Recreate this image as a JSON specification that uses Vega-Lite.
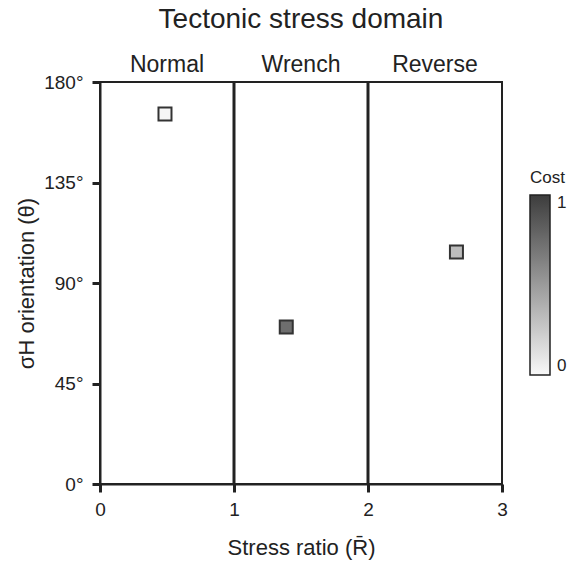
{
  "$schema": "https://vega.github.io/schema/vega-lite/v6.json",
  "width": 402,
  "height": 402,
  "autosize": "none",
  "padding": {"left": 100, "top": 82, "right": 72, "bottom": 83},
  "background": "white",
  "title": {"text": "Tectonic stress domain", "fontSize": 28, "font": "Liberation Sans", "fontWeight": "normal", "color": "#222", "offset": 20, "anchor": "middle"},
  "config": {
    "font": "Liberation Sans",
    "view": {"stroke": "#222", "strokeWidth": 2},
    "axis": {"grid": false, "domainColor": "#222", "domainWidth": 2, "tickColor": "#222", "tickWidth": 3, "tickSize": 8, "labelFontSize": 19, "labelColor": "#222", "labelFont": "Liberation Sans", "titleFont": "Liberation Sans", "titleFontSize": 22, "titleFontWeight": "normal", "titleColor": "#222", "labelPadding": 6, "labelFlush": false},
    "legend": {"titleFont": "Liberation Sans", "labelFont": "Liberation Sans"}
  },
  "layer": [
    {
      "data": {"values": [{"x": 1}, {"x": 2}]},
      "mark": {"type": "rule", "color": "#222", "strokeWidth": 3},
      "encoding": {
        "x": {"field": "x", "type": "quantitative", "scale": {"domain": [0, 3], "nice": false, "zero": false},
          "axis": {"values": [0, 1, 2, 3], "format": "d", "title": "Stress ratio (R\u0304)", "titlePadding": 18, "labelPadding": 8}}
      }
    },
    {
      "data": {"values": [{"x": 0.5, "label": "Normal"}, {"x": 1.5, "label": "Wrench"}, {"x": 2.5, "label": "Reverse"}]},
      "mark": {"type": "text", "fontSize": 23, "dy": -10, "baseline": "alphabetic", "color": "#222", "font": "Liberation Sans"},
      "encoding": {
        "x": {"field": "x", "type": "quantitative"},
        "y": {"datum": 180, "type": "quantitative"},
        "text": {"field": "label"}
      }
    },
    {
      "data": {"values": [
        {"ratio": 0.485, "theta": 165.7, "cost": 0.01},
        {"ratio": 1.39, "theta": 70.3, "cost": 0.74},
        {"ratio": 2.66, "theta": 103.9, "cost": 0.32}
      ]},
      "mark": {"type": "point", "shape": "square", "filled": true, "size": 169, "stroke": "#333", "strokeWidth": 2, "opacity": 1},
      "encoding": {
        "x": {"field": "ratio", "type": "quantitative"},
        "y": {"field": "theta", "type": "quantitative", "scale": {"domain": [0, 180], "nice": false},
          "axis": {"values": [0, 45, 90, 135, 180], "labelExpr": "datum.value + '°'", "title": "σH orientation (θ)", "titlePadding": 5, "labelPadding": 9}},
        "fill": {"field": "cost", "type": "quantitative",
          "scale": {"domain": [0, 1], "range": ["#f8f8f8", "#3d3d3d"], "interpolate": "rgb"},
          "legend": {"title": "Cost", "orient": "none", "legendX": 430, "legendY": 88, "direction": "vertical", "gradientLength": 180, "gradientThickness": 20, "gradientStrokeColor": "#222", "gradientStrokeWidth": 1.5, "values": [0, 1], "format": "d", "titleFontSize": 17, "titleFontWeight": "normal", "titleColor": "#222", "labelFontSize": 17, "labelColor": "#222", "labelOffset": 7, "titlePadding": 8}}
      }
    }
  ]
}
